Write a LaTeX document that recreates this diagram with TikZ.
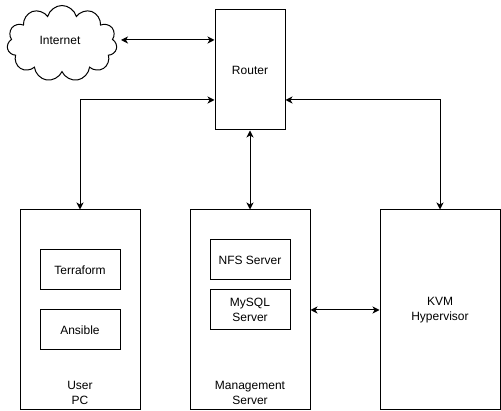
\documentclass[tikz,border=0pt]{standalone}
\usepackage{fontspec}
\setmainfont{Liberation Sans}
\usetikzlibrary{arrows.meta,shapes.symbols}
\begin{document}
\begin{tikzpicture}[x=1pt,y=-1pt,
  font=\fontsize{12}{14.5}\selectfont,
  box/.style={draw,line width=1pt,inner sep=0pt,align=center},
  arr/.style={line width=1pt,{Stealth[length=7pt,width=7pt,inset=2pt]}-{Stealth[length=7pt,width=7pt,inset=2pt]}},
  lbl/.style={inner sep=0pt,align=center}]
\useasboundingbox (0,0) rectangle (501,411);
\node[draw,line width=1pt,cloud,cloud puffs=11,cloud ignores aspect,minimum width=110pt,minimum height=76pt,inner sep=0pt] (inet) at (62,43.5) {};
\node[lbl] (inettxt) at (60,40) {Internet};
\node[box,minimum width=70pt,minimum height=120pt] (router) at (250,70) {Router};
\node[box,minimum width=120pt,minimum height=200pt] (pc) at (80,310) {};
\node[box,minimum width=80pt,minimum height=40pt] (tf) at (80,270) {Terraform};
\node[box,minimum width=80pt,minimum height=40pt] (ans) at (80,330) {Ansible};
\node[lbl] (pclbl) at (80,393) {User\\PC};
\node[box,minimum width=120pt,minimum height=200pt] (mgmt) at (250,310) {};
\node[box,minimum width=80pt,minimum height=40pt] (nfs) at (250,260) {NFS Server};
\node[box,minimum width=80pt,minimum height=40pt] (sql) at (250,310) {MySQL\\Server};
\node[lbl] (mgmtlbl) at (250,393) {Management\\Server};
\node[box,minimum width=120pt,minimum height=200pt] (kvm) at (440,310) {KVM\\Hypervisor};
\coordinate (inetend) at (121,40);
\draw[arr] (inetend) -- (router.west |- inetend);
\draw[arr] ([yshift=-30pt]router.west) -| (pc.north);
\draw[arr] ([yshift=-30pt]router.east) -| (kvm.north);
\draw[arr] (router.south) -- (mgmt.north);
\draw[arr] (mgmt.east) -- (kvm.west);
\end{tikzpicture}
\end{document}
